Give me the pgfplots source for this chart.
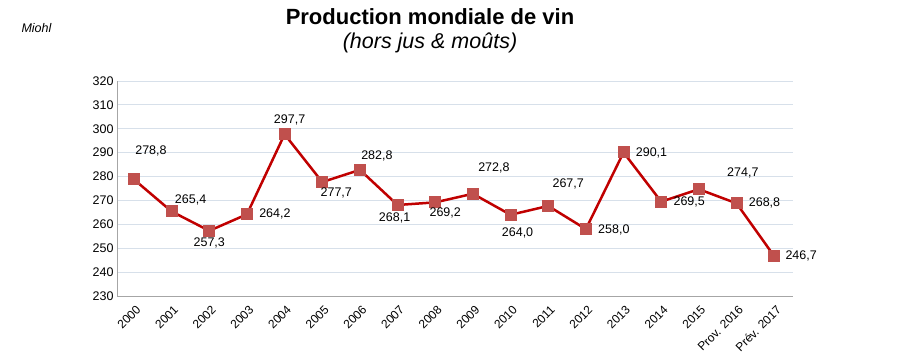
\documentclass[border=0pt]{standalone}
\usepackage{pgfplots}
\usepackage{pgfplotstable}
\pgfplotsset{compat=1.18}
\usepackage{fontspec}
\setmainfont{Liberation Sans}
\definecolor{linered}{RGB}{192,0,0}
\definecolor{markred}{RGB}{192,80,77}
\definecolor{gridc}{RGB}{215,224,234}
\definecolor{axc}{RGB}{166,166,166}
\pgfplotstableread{
x y lab dx dy
0 278.8 278,8 17 28
1 265.4 265,4 19 12
2 257.3 257,3 0 -12
3 264.2 264,2 28 0
4 297.7 297,7 5 14
5 277.7 277,7 14 -11
6 282.8 282,8 17 14
7 268.1 268,1 -3 -13
8 269.2 269,2 10 -11
9 272.8 272,8 21 26
10 264.0 264,0 7 -18
11 267.7 267,7 20 22
12 258.0 258,0 28 -1
13 290.1 290,1 28 0
14 269.5 269,5 28 0
15 274.7 274,7 44 16
16 268.8 268,8 28 0
17 246.7 246,7 27 0
}\vin
\begin{document}
\begin{tikzpicture}[x=1pt,y=1pt]
\path[use as bounding box] (0,0) rectangle (900,357);
\node[font=\fontsize{22}{26}\selectfont\bfseries] at (430,340) {Production mondiale de vin};
\node[font=\fontsize{21.5}{25}\selectfont\itshape] at (430,314) {(hors jus \& moûts)};
\node[font=\fontsize{12.5}{15}\selectfont\itshape,anchor=west] at (18,329) {Miohl};
\begin{axis}[
  at={(117pt,61pt)}, anchor=south west,
  width=676pt, height=215pt, scale only axis,
  xmin=-0.45, xmax=17.5, ymin=230, ymax=320,
  ytick={230,240,...,320},
  xtick={0,...,17},
  xticklabels={2000,2001,2002,2003,2004,2005,2006,2007,2008,2009,2010,2011,2012,2013,2014,2015,Prov. 2016,Prév. 2017},
  x tick label style={rotate=45, anchor=north east, font=\fontsize{12}{14}\selectfont, inner sep=1pt, yshift=-6pt, xshift=-4pt},
  y tick label style={font=\fontsize{12.5}{14}\selectfont},
  /pgf/number format/assume math mode=true,
  ymajorgrids, major grid style={gridc, line width=1pt},
  axis x line*=bottom, axis y line*=left,
  x axis line style={axc, line width=1pt, -},
  y axis line style={axc, line width=1pt, -},
  major tick length=0pt,
  tick style={draw=none},
  clip=false,
]
\addplot[linered, line width=2.5pt, mark=square*, mark size=5.5pt,
  mark options={markred, draw=markred, line width=0pt},
  nodes near coords,
  point meta=explicit symbolic,
  visualization depends on={\thisrow{dx} \as \dx},
  visualization depends on={\thisrow{dy} \as \dy},
  every node near coord/.append style={anchor=center, xshift=\dx pt, yshift=\dy pt, black, font=\fontsize{12.5}{14}\selectfont},
] table[x=x, y=y, meta=lab] {\vin};
\end{axis}
\end{tikzpicture}
\end{document}
